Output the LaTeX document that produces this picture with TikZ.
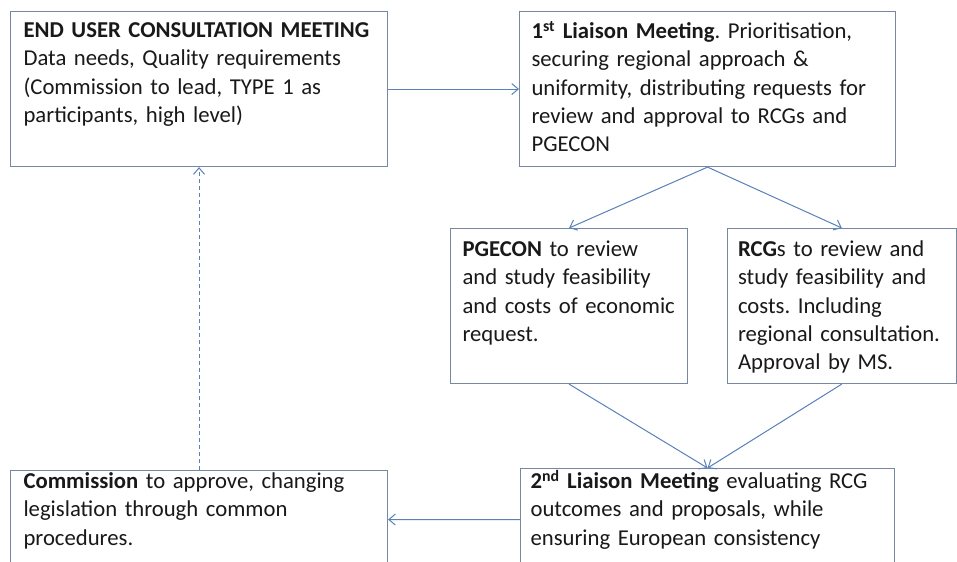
\documentclass[tikz,border=0pt]{standalone}
\usepackage{fontspec}
\setmainfont{Carlito}
\usetikzlibrary{arrows.meta}
\definecolor{boxc}{RGB}{120,135,160}
\definecolor{arrc}{RGB}{90,130,185}
\definecolor{txtc}{RGB}{25,25,25}
\frenchspacing
\begin{document}
\begin{tikzpicture}[x=1bp,y=-1bp,
  box/.style={draw=boxc, line width=1.1bp, inner ysep=0pt, anchor=north west, align=left, text=txtc,
    font=\fontsize{22.7bp}{28.3bp}\selectfont},
  conn/.style={draw=arrc, line width=1bp, -{Straight Barb[length=6.5bp,width=11bp]}},
  dashconn/.style={conn, dash pattern=on 4bp off 3bp}]
\useasboundingbox (0,0) rectangle (957,562);
\clip (0,0) rectangle (957,562);
\fill[white] (0,0) rectangle (957,562);
\node[box, inner xsep=13bp, text width=351bp, text height=26bp, text depth=129bp] (a) at (10,11)
  {\textbf{END USER CONSULTATION MEETING}\\Data needs, Quality requirements\\(Commission to lead, TYPE 1 as\\participants, high level)};
\node[box, inner xsep=12bp, text width=352bp, text height=27bp, text depth=128bp] (b) at (519,11)
  {\textbf{1\textsuperscript{st} Liaison Meeting}. Prioritisation,\\securing regional approach \&\\uniformity, distributing requests for\\review and approval to RCGs and\\PGECON};
\node[box, inner xsep=12bp, text width=213bp, text height=28bp, text depth=127bp] (c) at (450,228)
  {\textbf{PGECON} to review\\and study feasibility\\and costs of economic\\request.};
\node[box, inner xsep=10.5bp, text width=207.5bp, text height=28bp, text depth=127bp] (d) at (727,228)
  {\textbf{RCG}s to review and\\study feasibility and\\costs. Including\\regional consultation.\\Approval by MS.};
\node[box, inner xsep=10bp, text width=354bp, text height=20bp, text depth=82bp] (e) at (520,468)
  {\textbf{2\textsuperscript{nd} Liaison Meeting} evaluating RCG\\outcomes and proposals, while\\ensuring European consistency};
\node[box, inner xsep=13bp, text width=351bp, text height=18bp, text depth=80bp] (f) at (10,470)
  {\textbf{Commission} to approve, changing\\legislation through common\\procedures.};
\draw[conn] (a.east) -- (b.west);
\draw[conn] (b.south) -- (c.north);
\draw[conn] (b.south) -- (d.north);
\draw[conn] (c.south) -- (e.north);
\draw[conn] (d.south) -- (e.north);
\draw[conn] (e.west) -- (f.east);
\draw[dashconn] (f.north) -- (a.south);
\end{tikzpicture}
\end{document}
